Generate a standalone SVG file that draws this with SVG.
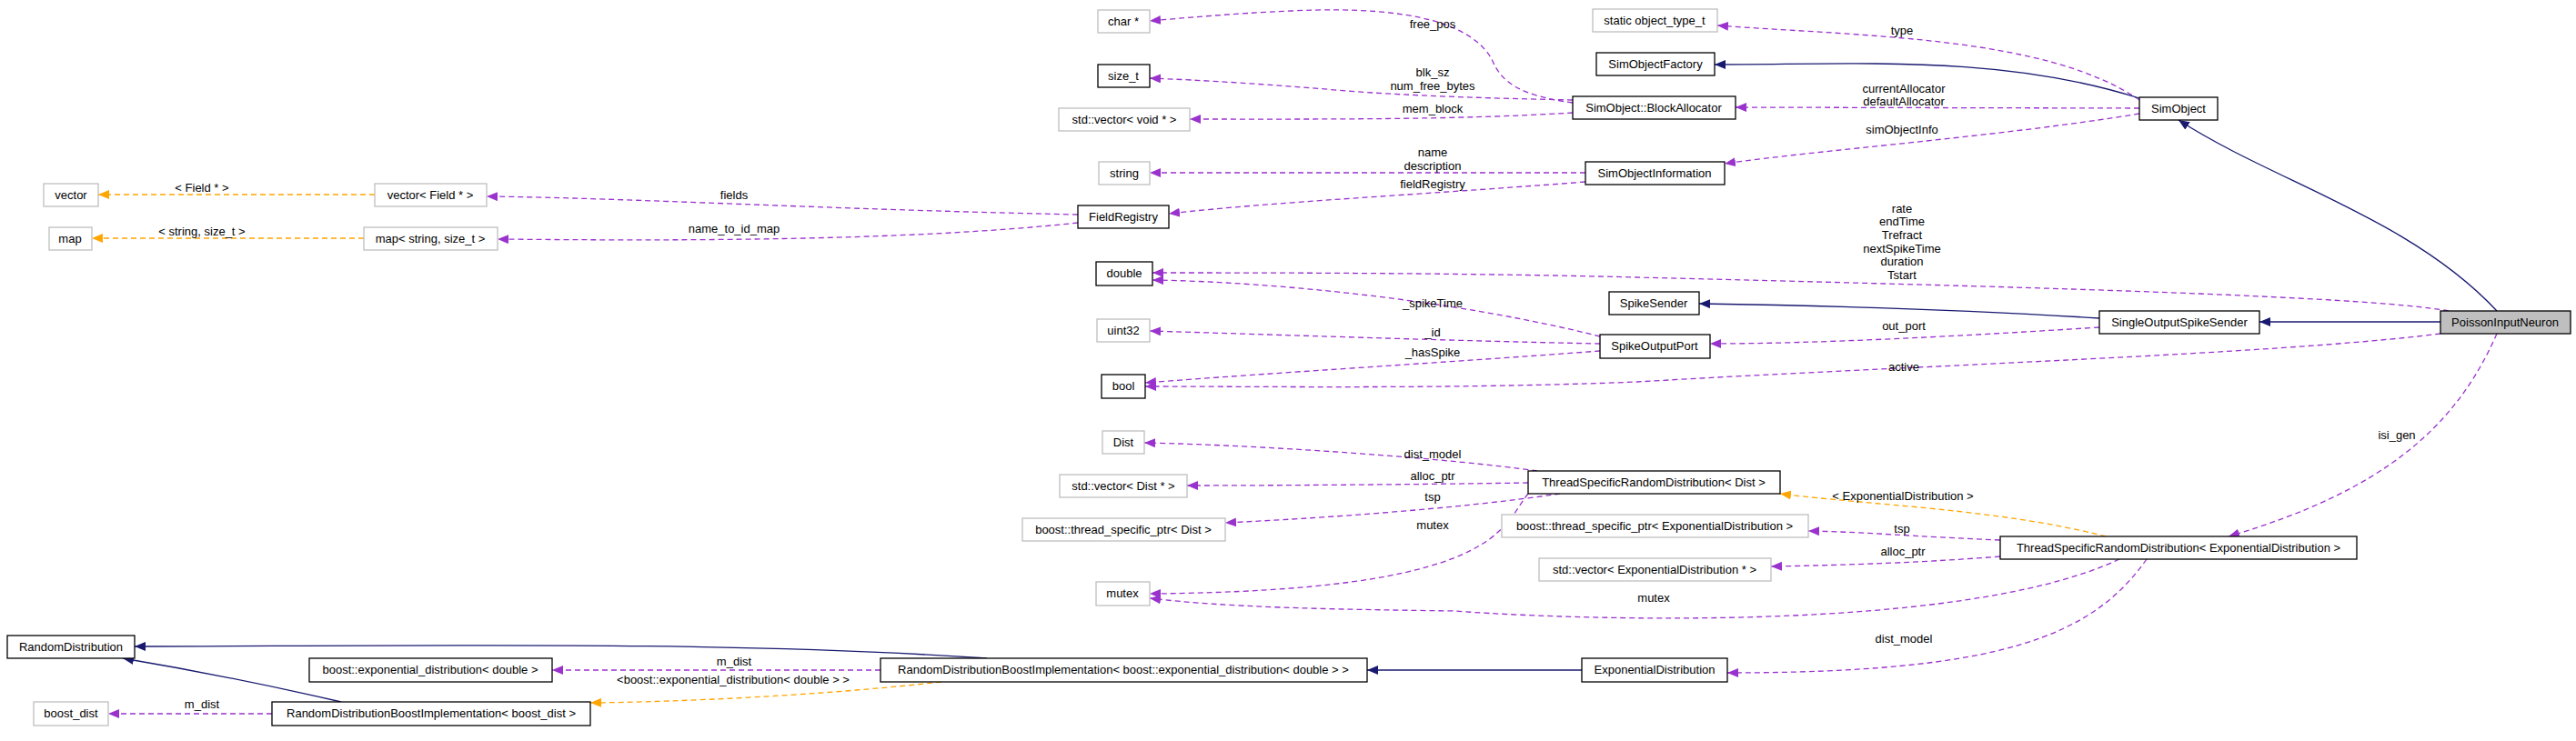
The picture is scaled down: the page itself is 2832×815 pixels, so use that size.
<svg xmlns="http://www.w3.org/2000/svg" width="2832" height="815" viewBox="0 0 2832 815">
<style>
text{font-family:"Liberation Sans",Arial,sans-serif;font-size:13px;fill:#000;text-anchor:middle}
.n rect{fill:#fff;stroke:#000;stroke-width:1.3}
.g rect{fill:#fff;stroke:#bfbfbf;stroke-width:1.3}
.u{fill:none;stroke:#9a32cd;stroke-width:1.3;stroke-dasharray:6,4;marker-end:url(#mp)}
.t{fill:none;stroke:#ffa500;stroke-width:1.3;stroke-dasharray:6,4;marker-end:url(#mo)}
.i{fill:none;stroke:#191970;stroke-width:1.3;marker-end:url(#mi)}
</style>
<defs>
<marker id="mp" markerWidth="12" markerHeight="10" refX="12" refY="5" orient="auto" markerUnits="userSpaceOnUse"><path d="M0,0L12,5L0,10z" fill="#9a32cd"/></marker>
<marker id="mo" markerWidth="12" markerHeight="10" refX="12" refY="5" orient="auto" markerUnits="userSpaceOnUse"><path d="M0,0L12,5L0,10z" fill="#ffa500"/></marker>
<marker id="mi" markerWidth="12" markerHeight="10" refX="12" refY="5" orient="auto" markerUnits="userSpaceOnUse"><path d="M0,0L12,5L0,10z" fill="#191970"/></marker>
</defs>
<rect width="2832" height="815" fill="#fff"/>
<g id="edges">
<path class="u" d="M1729,113 C1670,105 1650,90 1640,65 C1620,30 1560,5 1420,12 C1350,15 1300,20 1264,23"/>
<path class="u" d="M1729,110 C1640,108 1560,106 1480,100 C1400,93 1320,88 1264,86"/>
<path class="u" d="M1729,124 C1600,132 1450,131 1308,131"/>
<path class="u" d="M2352,110 C2250,40 2050,40 1888,28"/>
<path class="u" d="M2352,119 L1908,118"/>
<path class="u" d="M2352,125 C2200,150 2000,165 1896,180"/>
<path class="u" d="M1743,190 L1264,190"/>
<path class="u" d="M1743,200 C1550,215 1400,222 1285,235"/>
<path class="u" d="M1185,236 C900,230 700,218 535,216"/>
<path class="u" d="M1185,245 C1000,265 750,265 547,263"/>
<path class="u" d="M2692,342 C2600,325 2200,315 1800,305 C1600,300 1400,300 1267,300"/>
<path class="u" d="M1759,370 C1600,330 1400,310 1267,308"/>
<path class="u" d="M1759,378 C1600,375 1400,368 1264,364"/>
<path class="u" d="M1759,386 C1600,398 1400,410 1259,421"/>
<path class="u" d="M2308,360 C2150,370 2000,378 1880,378"/>
<path class="u" d="M2683,367 C2500,390 2100,402 1800,420 C1600,428 1400,425 1259,425" />
<path class="u" d="M2745,367 C2700,470 2620,540 2450,590"/>
<path class="u" d="M1690,518 C1600,505 1400,490 1258,487"/>
<path class="u" d="M1680,531 C1550,533 1400,534 1305,534"/>
<path class="u" d="M1715,543 C1600,560 1450,570 1347,575"/>
<path class="u" d="M1680,543 C1650,580 1650,650 1264,653"/>
<path class="u" d="M2199,594 C2100,590 2050,585 1988,584"/>
<path class="u" d="M2199,612 C2100,620 2000,622 1947,623"/>
<path class="u" d="M2330,615 C2150,700 1700,680 1600,672 C1450,670 1350,668 1264,658"/>
<path class="u" d="M2360,615 C2300,700 2200,740 1899,740"/>
<path class="u" d="M968,737 L607,737"/>
<path class="u" d="M299,785 L119,785"/>
<path class="i" d="M2352,108 C2200,60 2050,71 1885,71"/>
<path class="i" d="M2745,342 C2650,240 2500,200 2395,132"/>
<path class="i" d="M2308,350 C2150,340 2000,336 1868,334"/>
<path class="i" d="M2683,354 L2484,354"/>
<path class="i" d="M1085,724 C800,705 500,710 148,711"/>
<path class="i" d="M375,772 C280,750 200,735 135,724"/>
<path class="i" d="M1739,737 L1503,737"/>
<path class="t" d="M412,214 L108,214"/>
<path class="t" d="M400,262 L101,262"/>
<path class="t" d="M2315,590 C2200,560 2050,555 1957,543"/>
<path class="t" d="M1035,750 C900,765 750,772 649,773"/>
</g>
<g id="edge-labels">
<text x="222" y="211">&lt; Field * &gt;</text>
<text x="222" y="259">&lt; string, size_t &gt;</text>
<text x="807" y="219">fields</text>
<text x="807" y="256">name_to_id_map</text>
<text x="1575" y="31">free_pos</text>
<text x="2091" y="38">type</text>
<text x="1575" y="84">blk_sz</text>
<text x="1575" y="99">num_free_bytes</text>
<text x="1575" y="124">mem_block</text>
<text x="2093" y="102">currentAllocator</text>
<text x="2093" y="116">defaultAllocator</text>
<text x="2091" y="147">simObjectInfo</text>
<text x="1575" y="172">name</text>
<text x="1575" y="187">description</text>
<text x="1575" y="207">fieldRegistry</text>
<text x="2091" y="234">rate</text>
<text x="2091" y="248">endTime</text>
<text x="2091" y="263">Trefract</text>
<text x="2091" y="278">nextSpikeTime</text>
<text x="2091" y="292">duration</text>
<text x="2091" y="307">Tstart</text>
<text x="1575" y="338">_spikeTime</text>
<text x="1575" y="370">_id</text>
<text x="1575" y="392">_hasSpike</text>
<text x="2093" y="363">out_port</text>
<text x="2093" y="408">active</text>
<text x="2635" y="483">isi_gen</text>
<text x="1575" y="504">dist_model</text>
<text x="1575" y="528">alloc_ptr</text>
<text x="1575" y="551">tsp</text>
<text x="1575" y="582">mutex</text>
<text x="2092" y="550">&lt; ExponentialDistribution &gt;</text>
<text x="2091" y="586">tsp</text>
<text x="2092" y="611">alloc_ptr</text>
<text x="1818" y="662">mutex</text>
<text x="2093" y="707">dist_model</text>
<text x="807" y="732">m_dist</text>
<text x="806" y="752">&lt;boost::exponential_distribution&lt; double &gt; &gt;</text>
<text x="222" y="779">m_dist</text>
</g>
<g id="vector" class="g"><rect x="48" y="202" width="60" height="25"/><text x="78" y="219">vector</text></g>
<g id="vectorField" class="g"><rect x="412" y="202" width="123" height="25"/><text x="473" y="219">vector&lt; Field * &gt;</text></g>
<g id="map" class="g"><rect x="54" y="250" width="47" height="25"/><text x="77" y="267">map</text></g>
<g id="mapString" class="g"><rect x="400" y="250" width="147" height="25"/><text x="473" y="267">map&lt; string, size_t &gt;</text></g>
<g id="FieldRegistry" class="n"><rect x="1185" y="226" width="100" height="25"/><text x="1235" y="243">FieldRegistry</text></g>
<g id="charp" class="g"><rect x="1207" y="11" width="57" height="25"/><text x="1235" y="28">char *</text></g>
<g id="objtype" class="g"><rect x="1751" y="10" width="137" height="25"/><text x="1819" y="27">static object_type_t</text></g>
<g id="size_t" class="n"><rect x="1207" y="71" width="57" height="25"/><text x="1235" y="88">size_t</text></g>
<g id="SimObjectFactory" class="n"><rect x="1755" y="58" width="130" height="25"/><text x="1820" y="75">SimObjectFactory</text></g>
<g id="vectorvoid" class="g"><rect x="1164" y="119" width="144" height="25"/><text x="1236" y="136">std::vector&lt; void * &gt;</text></g>
<g id="BlockAllocator" class="n"><rect x="1729" y="106" width="179" height="25"/><text x="1818" y="123">SimObject::BlockAllocator</text></g>
<g id="SimObject" class="n"><rect x="2352" y="107" width="86" height="25"/><text x="2395" y="124">SimObject</text></g>
<g id="string" class="g"><rect x="1208" y="178" width="56" height="25"/><text x="1236" y="195">string</text></g>
<g id="SimObjectInformation" class="n"><rect x="1743" y="178" width="153" height="25"/><text x="1819" y="195">SimObjectInformation</text></g>
<g id="double" class="n"><rect x="1205" y="288" width="62" height="26"/><text x="1236" y="305">double</text></g>
<g id="SpikeSender" class="n"><rect x="1769" y="321" width="99" height="25"/><text x="1818" y="338">SpikeSender</text></g>
<g id="SingleOutputSpikeSender" class="n"><rect x="2308" y="342" width="176" height="25"/><text x="2396" y="359">SingleOutputSpikeSender</text></g>
<g id="PoissonInputNeuron" class="n"><rect x="2683" y="342" width="143" height="25" style="fill:#bfbfbf"/><text x="2754" y="359">PoissonInputNeuron</text></g>
<g id="uint32" class="g"><rect x="1206" y="351" width="58" height="25"/><text x="1235" y="368">uint32</text></g>
<g id="SpikeOutputPort" class="n"><rect x="1759" y="368" width="121" height="26"/><text x="1819" y="385">SpikeOutputPort</text></g>
<g id="bool" class="n"><rect x="1211" y="412" width="48" height="26"/><text x="1235" y="429">bool</text></g>
<g id="Dist" class="g"><rect x="1212" y="474" width="46" height="25"/><text x="1235" y="491">Dist</text></g>
<g id="vectorDist" class="g"><rect x="1165" y="522" width="140" height="25"/><text x="1235" y="539">std::vector&lt; Dist * &gt;</text></g>
<g id="tspDist" class="g"><rect x="1124" y="570" width="223" height="25"/><text x="1235" y="587">boost::thread_specific_ptr&lt; Dist &gt;</text></g>
<g id="mutex" class="g"><rect x="1205" y="640" width="59" height="26"/><text x="1234" y="657">mutex</text></g>
<g id="TSRDDist" class="n"><rect x="1680" y="518" width="277" height="25"/><text x="1818" y="535">ThreadSpecificRandomDistribution&lt; Dist &gt;</text></g>
<g id="tspExp" class="g"><rect x="1651" y="566" width="337" height="25"/><text x="1819" y="583">boost::thread_specific_ptr&lt; ExponentialDistribution &gt;</text></g>
<g id="vectorExp" class="g"><rect x="1692" y="614" width="255" height="25"/><text x="1819" y="631">std::vector&lt; ExponentialDistribution * &gt;</text></g>
<g id="TSRDExp" class="n"><rect x="2199" y="590" width="392" height="25"/><text x="2395" y="607">ThreadSpecificRandomDistribution&lt; ExponentialDistribution &gt;</text></g>
<g id="ExponentialDistribution" class="n"><rect x="1739" y="724" width="160" height="26"/><text x="1819" y="741">ExponentialDistribution</text></g>
<g id="RDBIExp" class="n"><rect x="968" y="724" width="535" height="26"/><text x="1235" y="741">RandomDistributionBoostImplementation&lt; boost::exponential_distribution&lt; double &gt; &gt;</text></g>
<g id="boostExp" class="n"><rect x="340" y="724" width="267" height="26"/><text x="473" y="741">boost::exponential_distribution&lt; double &gt;</text></g>
<g id="RandomDistribution" class="n"><rect x="8" y="699" width="140" height="25"/><text x="78" y="716">RandomDistribution</text></g>
<g id="boost_dist" class="g"><rect x="37" y="772" width="82" height="26"/><text x="78" y="789">boost_dist</text></g>
<g id="RDBIBoost" class="n"><rect x="299" y="772" width="350" height="26"/><text x="474" y="789">RandomDistributionBoostImplementation&lt; boost_dist &gt;</text></g>
</svg>
